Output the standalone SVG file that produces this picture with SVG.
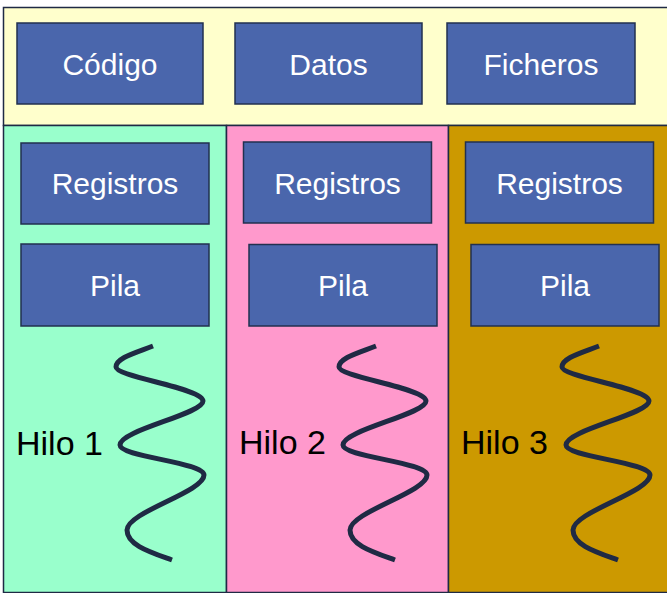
<svg xmlns="http://www.w3.org/2000/svg" width="667" height="593" viewBox="0 0 667 593">
<style>
.box{fill:#4A66AC;stroke:#22304F;stroke-width:1.5}
.lbl{font-family:"Liberation Sans",Arial,sans-serif;font-size:30px;fill:#FFFFFF;text-anchor:middle}
.hilo{font-family:"Liberation Sans",Arial,sans-serif;font-size:34px;fill:#000000}
.area{stroke:#1F2A44;stroke-width:1.5}
.wave{fill:none;stroke:#1F2A44;stroke-width:5}
</style>
<defs>
<path id="wave" class="wave" d="M153,346 C135,353 116,358 116,367 C116,377 203,388 203,401 C203,414 120,430 120,445 C120,457 204,462 204,475 C204,492 127,512 127,530 C127,545 150,552 172,560"/>
</defs>
<rect width="667" height="593" fill="#FFFFFF"/>
<g id="proceso">
<rect class="area" x="3.5" y="7.5" width="670" height="118" fill="#FFFFCC"/>
</g>
<g id="hilo1">
<rect class="area" x="3.5" y="125.5" width="223" height="467" fill="#99FFCC"/>
</g>
<g id="hilo2">
<rect class="area" x="226.5" y="125.5" width="222" height="467" fill="#FF99CC"/>
</g>
<g id="hilo3">
<rect class="area" x="448.5" y="125.5" width="225" height="467" fill="#CC9900"/>
</g>
<g id="codigo"><rect class="box" x="17" y="23" width="186" height="81"/><text class="lbl" x="110" y="75">Código</text></g>
<g id="datos"><rect class="box" x="235" y="23" width="187" height="81"/><text class="lbl" x="328.5" y="75">Datos</text></g>
<g id="ficheros"><rect class="box" x="447" y="23" width="188" height="81"/><text class="lbl" x="541" y="75">Ficheros</text></g>
<g id="registros1"><rect class="box" x="21" y="143" width="188" height="81"/><text class="lbl" x="115" y="194">Registros</text></g>
<g id="pila1"><rect class="box" x="21" y="244" width="188" height="82"/><text class="lbl" x="115" y="296">Pila</text></g>
<g id="registros2"><rect class="box" x="243.5" y="142" width="188" height="81"/><text class="lbl" x="337.5" y="194">Registros</text></g>
<g id="pila2"><rect class="box" x="249" y="244.5" width="188" height="81.5"/><text class="lbl" x="343" y="296">Pila</text></g>
<g id="registros3"><rect class="box" x="465.5" y="142" width="188" height="81"/><text class="lbl" x="559.5" y="194">Registros</text></g>
<g id="pila3"><rect class="box" x="471" y="244.5" width="188" height="81.5"/><text class="lbl" x="565" y="296">Pila</text></g>
<g id="connectors">
<use href="#wave"/>
<use href="#wave" transform="translate(223,0)"/>
<use href="#wave" transform="translate(446,0)"/>
</g>
<g id="etiquetas">
<text class="hilo" x="16" y="455">Hilo 1</text>
<text class="hilo" x="239" y="454">Hilo 2</text>
<text class="hilo" x="461" y="454">Hilo 3</text>
</g>
</svg>
